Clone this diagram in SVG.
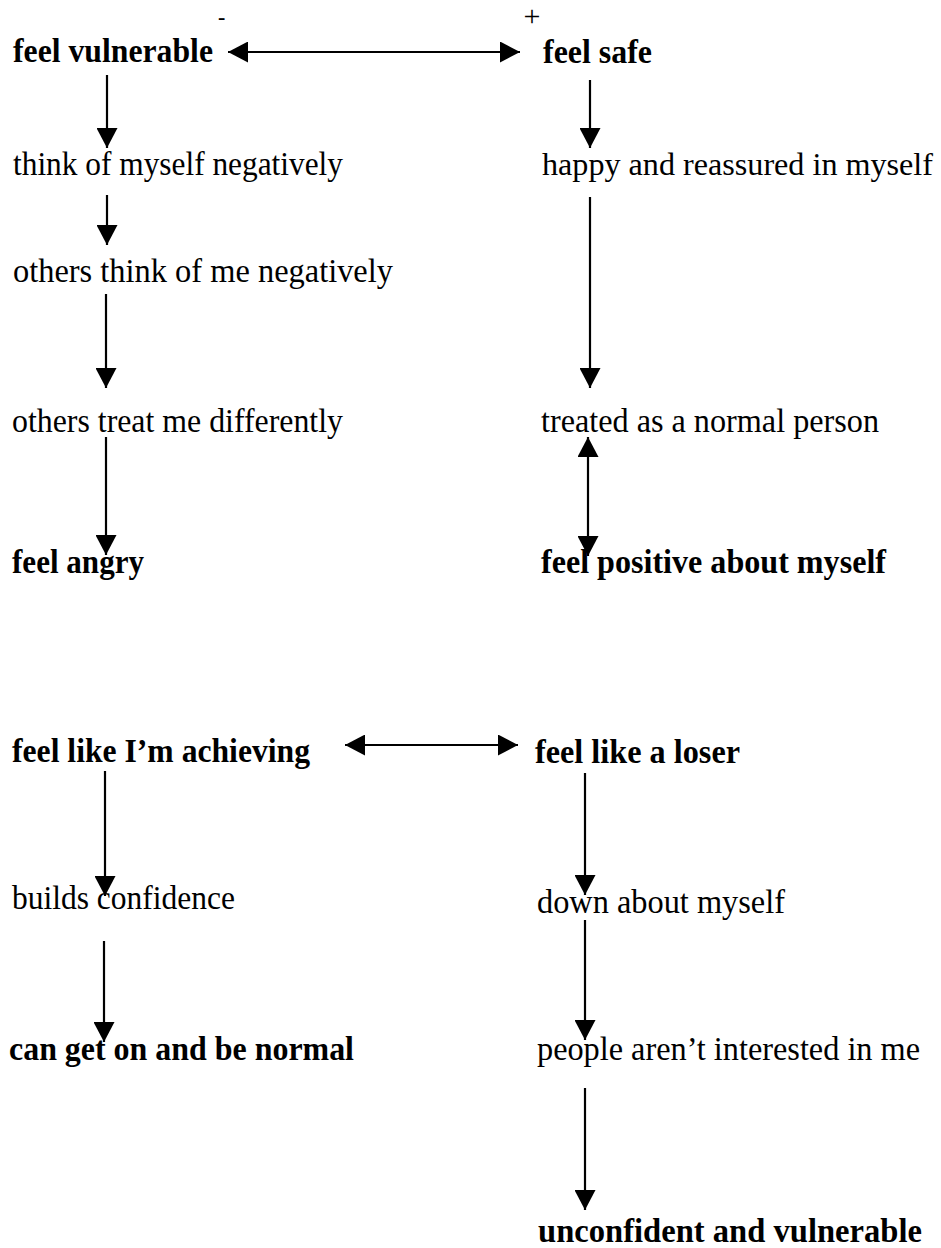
<svg xmlns="http://www.w3.org/2000/svg" width="941" height="1248" viewBox="0 0 941 1248">
<style>
  text { font-family: "Liberation Serif", "Times New Roman", serif; font-size: 33px; fill: #000; }
  .b { font-weight: bold; }
  .conn line { stroke: #000; stroke-width: 2.2; fill: none; }
</style>
<defs>
  <marker id="ah" viewBox="0 0 20 21" refX="20" refY="10.5" markerWidth="20" markerHeight="21" markerUnits="userSpaceOnUse" orient="auto-start-reverse">
    <path d="M0,0 L20,10.5 L0,21 Z" fill="#000"/>
  </marker>
</defs>
<rect width="941" height="1248" fill="#fff"/>

<g id="signs">
  <text x="218" y="24" class="b" style="font-size:22px">-</text>
  <text x="532" y="26" text-anchor="middle" style="font-size:30px">+</text>
</g>

<g id="n-feel-vulnerable"><text x="13" y="62" class="b" textLength="200" lengthAdjust="spacingAndGlyphs">feel vulnerable</text></g>
<g id="n-feel-safe"><text x="543" y="63" class="b" textLength="109" lengthAdjust="spacingAndGlyphs">feel safe</text></g>
<g id="n-think-negatively"><text x="13" y="175" textLength="330" lengthAdjust="spacingAndGlyphs">think of myself negatively</text></g>
<g id="n-happy"><text x="542" y="175" style="font-size:32px" textLength="391" lengthAdjust="spacingAndGlyphs">happy and reassured in myself</text></g>
<g id="n-others-think"><text x="13" y="282" textLength="380" lengthAdjust="spacingAndGlyphs">others think of me negatively</text></g>
<g id="n-others-treat"><text x="12" y="432" textLength="331" lengthAdjust="spacingAndGlyphs">others treat me differently</text></g>
<g id="n-treated-normal"><text x="541" y="432" textLength="338" lengthAdjust="spacingAndGlyphs">treated as a normal person</text></g>
<g id="n-feel-angry"><text x="12" y="573" class="b" textLength="132" lengthAdjust="spacingAndGlyphs">feel angry</text></g>
<g id="n-feel-positive"><text x="541" y="573" class="b" textLength="345" lengthAdjust="spacingAndGlyphs">feel positive about myself</text></g>
<g id="n-achieving"><text x="12" y="762" class="b" textLength="298" lengthAdjust="spacingAndGlyphs">feel like I’m achieving</text></g>
<g id="n-loser"><text x="535" y="763" class="b" textLength="205" lengthAdjust="spacingAndGlyphs">feel like a loser</text></g>
<g id="n-builds-confidence"><text x="12" y="909" textLength="223" lengthAdjust="spacingAndGlyphs">builds confidence</text></g>
<g id="n-down"><text x="537" y="913" textLength="248" lengthAdjust="spacingAndGlyphs">down about myself</text></g>
<g id="n-get-on"><text x="9" y="1060" class="b" textLength="345" lengthAdjust="spacingAndGlyphs">can get on and be normal</text></g>
<g id="n-not-interested"><text x="537" y="1060" textLength="383" lengthAdjust="spacingAndGlyphs">people aren’t interested in me</text></g>
<g id="n-unconfident"><text x="538" y="1242" class="b" textLength="384" lengthAdjust="spacingAndGlyphs">unconfident and vulnerable</text></g>

<g id="connectors" class="conn">
  <line x1="228" y1="52" x2="520" y2="52" marker-start="url(#ah)" marker-end="url(#ah)"/>
  <line x1="107" y1="75" x2="107" y2="148" marker-end="url(#ah)"/>
  <line x1="590" y1="80" x2="590" y2="148" marker-end="url(#ah)"/>
  <line x1="107" y1="195" x2="107" y2="245" marker-end="url(#ah)"/>
  <line x1="590" y1="197" x2="590" y2="388" marker-end="url(#ah)"/>
  <line x1="106" y1="294" x2="106" y2="388" marker-end="url(#ah)"/>
  <line x1="106" y1="437" x2="106" y2="555" marker-end="url(#ah)"/>
  <line x1="588" y1="437" x2="588" y2="556" marker-start="url(#ah)" marker-end="url(#ah)"/>
  <line x1="345" y1="745" x2="518" y2="745" marker-start="url(#ah)" marker-end="url(#ah)"/>
  <line x1="105" y1="771" x2="105" y2="896" marker-end="url(#ah)"/>
  <line x1="585" y1="773" x2="585" y2="895" marker-end="url(#ah)"/>
  <line x1="104" y1="941" x2="104" y2="1042" marker-end="url(#ah)"/>
  <line x1="585" y1="920" x2="585" y2="1040" marker-end="url(#ah)"/>
  <line x1="585" y1="1088" x2="585" y2="1210" marker-end="url(#ah)"/>
</g>
</svg>
